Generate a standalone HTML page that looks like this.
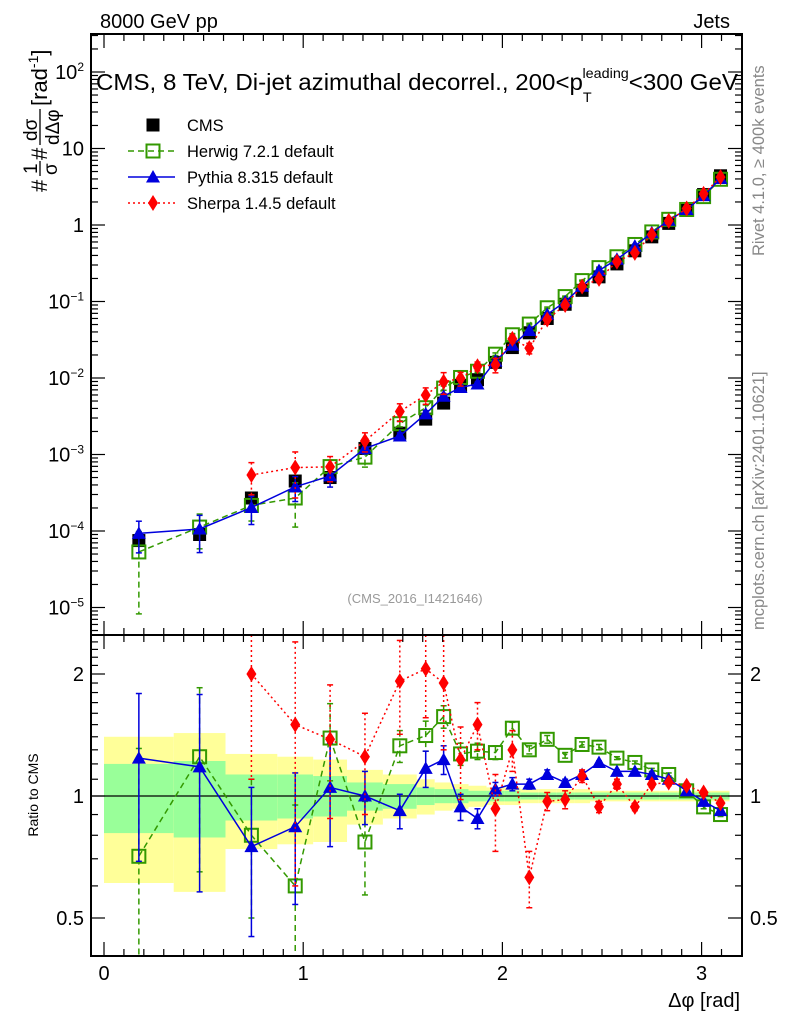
<!DOCTYPE html>
<html><head><meta charset="utf-8"><style>
html,body{margin:0;padding:0;background:#fff}
svg{display:block;font-family:"Liberation Sans",sans-serif}
</style></head><body>
<svg id="c" width="786" height="1024" xmlns="http://www.w3.org/2000/svg">
<text x="100" y="28" font-size="20">8000 GeV pp</text>
<text x="730" y="28" font-size="20" text-anchor="end">Jets</text>
<g id="bands"></g>
<g id="marks"></g>
<g id="axes"></g>
<text x="96" y="90" font-size="23.5" textLength="642" lengthAdjust="spacingAndGlyphs">CMS, 8 TeV, Di-jet azimuthal decorrel., 200&lt;p<tspan font-size="14" dy="12">T</tspan><tspan font-size="14" dx="-9" dy="-24">leading</tspan><tspan dy="12">&lt;300 GeV</tspan></text>
<text x="415" y="603" font-size="13" fill="#999" text-anchor="middle">(CMS_2016_I1421646)</text>
<text transform="translate(764,256) rotate(-90)" font-size="16.5" fill="#888">Rivet 4.1.0, ≥ 400k events</text>
<text transform="translate(764,630) rotate(-90)" font-size="16.5" fill="#888">mcplots.cern.ch [arXiv:2401.10621]</text>
<g transform="translate(47,192) rotate(-90)">
<text x="0" y="0" font-size="22">#</text>
<text x="18" y="-10" font-size="19">1</text>
<line x1="16" x2="31" y1="-7" y2="-7" stroke="#000" stroke-width="1.3"/>
<text x="17" y="10" font-size="19">σ</text>
<text x="32" y="0" font-size="22">#</text>
<text x="51" y="-10" font-size="19">dσ</text>
<line x1="47" x2="83" y1="-7" y2="-7" stroke="#000" stroke-width="1.3"/>
<text x="47" y="12" font-size="19">dΔφ</text>
<text x="86" y="0" font-size="22">[rad<tspan font-size="14" dy="-9">-1</tspan><tspan dy="9">]</tspan></text>
</g>
<text transform="translate(38,795) rotate(-90)" font-size="14" text-anchor="middle">Ratio to CMS</text>
<text x="740" y="1007" font-size="20" text-anchor="end">Δφ [rad]</text>
<g id="legend"></g>
</svg>
<script>
const edges=[0,0.35,0.61,0.87,1.05,1.22,1.40,1.57,1.66,1.75,1.83,1.92,2.01,2.09,2.18,2.27,2.36,2.44,2.53,2.62,2.71,2.79,2.88,2.97,3.05,3.14];
const cms=[7.5e-5,9e-5,2.7e-4,4.5e-4,5e-4,1.2e-3,1.9e-3,2.9e-3,4.7e-3,8e-3,9.5e-3,1.6e-2,2.5e-2,3.9e-2,6e-2,9.2e-2,0.14,0.21,0.31,0.46,0.7,1.05,1.55,2.5,4.4];
const herwigRatio=[0.71,1.25,0.80,0.60,1.39,0.77,1.33,1.41,1.57,1.27,1.29,1.28,1.47,1.30,1.38,1.26,1.34,1.32,1.24,1.21,1.16,1.13,1.03,0.94,0.90];
const pythiaRatio=[1.24,1.18,0.75,0.84,1.05,1.0,0.92,1.17,1.23,0.94,0.88,1.04,1.07,1.07,1.13,1.08,1.13,1.21,1.15,1.15,1.13,1.10,1.03,0.97,0.92];
const sherpaRatio=[null,null,2.0,1.50,1.38,1.25,1.92,2.06,1.90,1.23,1.50,0.93,1.30,0.63,0.97,0.98,1.12,0.94,1.07,0.94,1.07,1.08,1.06,1.02,0.96];
const herwigErr=[0.6,0.6,0.3,0.35,0.3,0.2,0.12,0.12,0.1,0.08,0.06,0.05,0.05,0.03,0.03,0.02,0.02,0.02,0.01,0.01,0.01,0.01,0.01,0.01,0.01];
const pythiaErr=[0.55,0.6,0.3,0.3,0.3,0.15,0.09,0.12,0.1,0.07,0.05,0.04,0.04,0.03,0.03,0.02,0.02,0.01,0.01,0.01,0.01,0.01,0.01,0.01,0.01];
const sherpaErr=[0,0,0.9,0.9,0.5,0.35,0.5,0.5,0.6,0.25,0.2,0.2,0.15,0.1,0.05,0.05,0.04,0.03,0.03,0.02,0.02,0.02,0.01,0.01,0.01];
const yelUp=[1.40,1.43,1.27,1.25,1.23,1.16,1.13,1.10,1.08,1.07,1.06,1.05,1.05,1.04,1.04,1.04,1.04,1.03,1.03,1.03,1.03,1.03,1.03,1.03,1.03];
const grnUp=[1.20,1.22,1.13,1.13,1.12,1.08,1.07,1.05,1.04,1.04,1.03,1.03,1.03,1.02,1.02,1.02,1.02,1.02,1.02,1.02,1.02,1.02,1.02,1.02,1.02];
const grnLo=[0.81,0.79,0.87,0.88,0.89,0.92,0.93,0.95,0.96,0.96,0.97,0.97,0.97,0.98,0.98,0.98,0.98,0.98,0.98,0.98,0.98,0.98,0.98,0.98,0.98];
const yelLo=[0.61,0.58,0.74,0.76,0.77,0.85,0.88,0.90,0.92,0.93,0.94,0.95,0.95,0.96,0.96,0.96,0.96,0.97,0.97,0.97,0.97,0.97,0.97,0.97,0.97];
const topTicks=[[2,"10<tspan font-size='12' dy='-8'>2</tspan>"],[1,"10"],[0,"1"],[-1,"10<tspan font-size='12' dy='-8'>−1</tspan>"],[-2,"10<tspan font-size='12' dy='-8'>−2</tspan>"],[-3,"10<tspan font-size='12' dy='-8'>−3</tspan>"],[-4,"10<tspan font-size='12' dy='-8'>−4</tspan>"],[-5,"10<tspan font-size='12' dy='-8'>−5</tspan>"]];
const ratioTicks=[[2,"2"],[1,"1"],[0.5,"0.5"]];
const xTicks=[0,1,2,3];

const L=91,R=742,T=34,M=635,B=956;
const X=v=>104+v*199.2;
const Y=v=>225-76.5*Math.log10(v);
const YR=r=>796-122*Math.log2(r);
const NS="http://www.w3.org/2000/svg";
function mk(p,tag,a){const e=document.createElementNS(NS,tag);for(const k in a)e.setAttribute(k,a[k]);p.appendChild(e);return e;}
const bands=document.getElementById('bands'),marks=document.getElementById('marks'),axes=document.getElementById('axes'),leg=document.getElementById('legend');
const cl=(v,a,b)=>Math.max(a,Math.min(b,v));
for(let i=0;i<cms.length;i++){
 const x0=X(edges[i]),x1=X(edges[i+1]);
 const y=mk(bands,'rect',{x:x0,y:YR(yelUp[i]),width:x1-x0,height:YR(yelLo[i])-YR(yelUp[i]),fill:'#ffff99'});
 
 
 const g=mk(bands,'rect',{x:x0,y:YR(grnUp[i]),width:x1-x0,height:YR(grnLo[i])-YR(grnUp[i]),fill:'#99ff99'});
 
 
}
mk(bands,'line',{x1:L,x2:R,y1:YR(1),y2:YR(1),stroke:'#000','stroke-width':1.2});
const cen=edges.slice(0,-1).map((e,i)=>(e+edges[i+1])/2);
function drawMarker(p,type,x,y,col){
 if(type==='sq')return mk(p,'rect',{x:x-6.5,y:y-6.5,width:13,height:13,fill:'#000'});
 if(type==='osq')return mk(p,'rect',{x:x-6.5,y:y-6.5,width:13,height:13,fill:'none',stroke:col,'stroke-width':2});
 if(type==='tri')return mk(p,'polygon',{points:`${x},${y-7} ${x-7},${y+5.5} ${x+7},${y+5.5}`,fill:col});
 if(type==='dia')return mk(p,'polygon',{points:`${x},${y-8} ${x-5},${y} ${x},${y+8} ${x+5},${y}`,fill:col});
}
const series=[
 {name:'herwig',r:herwigRatio,e:herwigErr,col:'#339900',dash:'6,4',m:'osq'},
 {name:'pythia',r:pythiaRatio,e:pythiaErr,col:'#0000dd',dash:'',m:'tri'},
 {name:'sherpa',r:sherpaRatio,e:sherpaErr,col:'#ff0000',dash:'2,3',m:'dia'}];
cms.forEach((v,i)=>{const e=drawMarker(marks,'sq',X(cen[i]),Y(v));
 
 });
series.forEach(s=>{
 ['top','ratio'].forEach(panel=>{
  const pts=[];
  s.r.forEach((r,i)=>{if(r==null)return;
   const x=X(cen[i]);
   let y,yu,yd;
   if(panel==='top'){const v=cms[i]*r;y=Y(v);yu=Y(v*(1+s.e[i]/r));yd=Y(v*Math.max(0.05,1-s.e[i]/r));y=cl(y,T,M);yu=cl(yu,T,M);yd=cl(yd,T,M);}
   else{y=cl(YR(r),M,B);yu=cl(YR(r+s.e[i]),M,B);yd=cl(YR(Math.max(0.1,r-s.e[i])),M,B);}
   pts.push([x,y]);
   mk(marks,'line',{x1:x,x2:x,y1:yu,y2:yd,stroke:s.col,'stroke-width':1.5,'stroke-dasharray':s.dash});
   mk(marks,'line',{x1:x-3,x2:x+3,y1:yu,y2:yu,stroke:s.col,'stroke-width':1.5});
   mk(marks,'line',{x1:x-3,x2:x+3,y1:yd,y2:yd,stroke:s.col,'stroke-width':1.5});
  });
  const pl=mk(marks,'polyline',{points:pts.map(p=>p.join(',')).join(' '),fill:'none',stroke:s.col,'stroke-width':1.5,'stroke-dasharray':s.dash});
  
  
  pts.forEach(p=>{const e=drawMarker(marks,s.m,p[0],p[1],s.col);
   
   });
 });
});
mk(axes,'rect',{x:L,y:T,width:R-L,height:M-T,fill:'none',stroke:'#000','stroke-width':2});
mk(axes,'rect',{x:L,y:M,width:R-L,height:B-M,fill:'none',stroke:'#000','stroke-width':2});
for(let v=0;v<=3.2;v+=0.1){const x=X(v);if(x>R)break;const maj=Math.abs(v-Math.round(v))<1e-6;const l=maj?14:7;
 [T,M].forEach(y=>mk(axes,'line',{x1:x,x2:x,y1:y,y2:y+l,stroke:'#000','stroke-width':1.2}));
 [M,B].forEach(y=>mk(axes,'line',{x1:x,x2:x,y1:y,y2:y-l,stroke:'#000','stroke-width':1.2}));}
xTicks.forEach(v=>{const t=mk(axes,'text',{x:X(v),y:980,'font-size':20,'text-anchor':'middle'});t.textContent=v;
 
 });
for(let d=-6;d<=3;d++)for(let k=1;k<10;k++){const v=k*Math.pow(10,d);const y=Y(v);if(y<T||y>M)continue;const l=k===1?14:7;
 mk(axes,'line',{x1:L,x2:L+l,y1:y,y2:y,stroke:'#000','stroke-width':1.2});
 mk(axes,'line',{x1:R,x2:R-l,y1:y,y2:y,stroke:'#000','stroke-width':1.2});}
topTicks.forEach(([d,s])=>{const t=mk(axes,'text',{x:84,y:Y(Math.pow(10,d))+7,'font-size':20,'text-anchor':'end'});t.innerHTML=s;
 
 });
for(let v=0.4;v<=2.5;v+=0.1){const y=YR(v);if(y<M||y>B)continue;const maj=[0.5,1,2].some(m=>Math.abs(v-m)<1e-6);const l=maj?14:7;
 mk(axes,'line',{x1:L,x2:L+l,y1:y,y2:y,stroke:'#000','stroke-width':1.2});
 mk(axes,'line',{x1:R,x2:R-l,y1:y,y2:y,stroke:'#000','stroke-width':1.2});}
ratioTicks.forEach(([v,s])=>{[[84,'end'],[750,'start']].forEach(([x,a])=>{const t=mk(axes,'text',{x:x,y:YR(v)+7,'font-size':20,'text-anchor':a});t.textContent=s;
 
 });});
const lg=[['CMS','sq','#000',''],['Herwig 7.2.1 default','osq','#339900','6,4'],['Pythia 8.315 default','tri','#0000dd',''],['Sherpa 1.4.5 default','dia','#ff0000','2,3']];
lg.forEach(([n,m,c,d],i)=>{const y=125+i*26;
 if(m!=='sq')mk(leg,'line',{x1:128,x2:175,y1:y,y2:y,stroke:c,'stroke-width':1.5,'stroke-dasharray':d});
 drawMarker(leg,m,153,y,c);
 const t=mk(leg,'text',{x:187,y:y+6,'font-size':16.5});t.textContent=n;
 
 });
</script>
</body></html>
